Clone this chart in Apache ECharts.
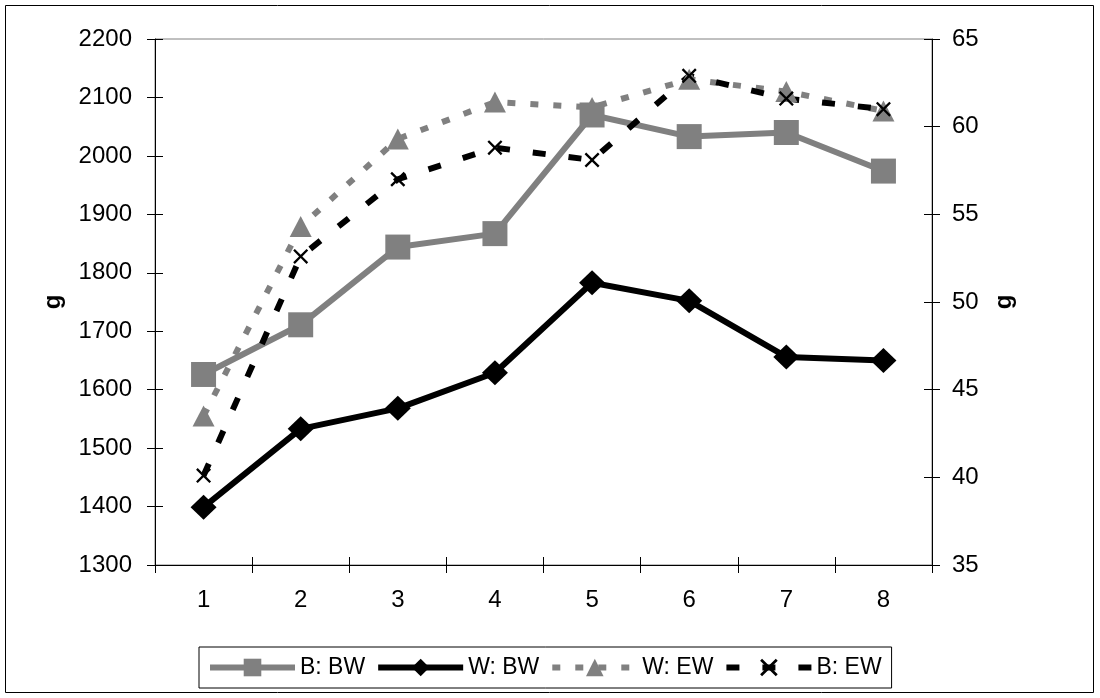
<!DOCTYPE html>
<html><head><meta charset="utf-8">
<script src="https://cdn.jsdelivr.net/npm/echarts@6/dist/echarts.min.js"></script>
<style>html,body{margin:0;padding:0;background:#fff}#c{width:1100px;height:698px}</style>
</head><body><div id="c"></div>
<script>
// ---- data ----
const categories = ['1', '2', '3', '4', '5', '6', '7', '8'];
const seriesNames = ['B: BW', 'W: BW', 'W: EW', 'B: EW'];
const bBW = [1626, 1711, 1844, 1867, 2070, 2033, 2040, 1974];   // left axis
const wBW = [1399, 1533, 1568, 1629, 1783, 1752, 1656, 1650];   // left axis
const wEW = [43.5, 54.3, 59.3, 61.4, 61.1, 62.7, 62.0, 60.9];   // right axis
const bEW = [40.1, 52.6, 57.0, 58.8, 58.1, 62.9, 61.6, 61.0];   // right axis
const leftMin = 1300, leftMax = 2200, leftStep = 100;
const rightMin = 35, rightMax = 65, rightStep = 5;
const axisTitle = 'g';

const FONT = "'Liberation Sans', Arial, sans-serif";
const GRAY = '#808080';
const LW = 6;
const xMark = 'path://M0,1.1L1.1,0L5,3.9L8.9,0L10,1.1L6.1,5L10,8.9L8.9,10L5,6.1L1.1,10L0,8.9L3.9,5Z';

const chart = echarts.init(document.getElementById('c'), null, {renderer: 'canvas'});
const lbl = {color: '#000', fontSize: 24, fontFamily: FONT, formatter: v => String(v)};
const line = {show: true, lineStyle: {color: '#000', width: 1}};

const option = {
  animation: false,
  backgroundColor: '#fff',
  grid: {left: 155, right: 168, top: 39, bottom: 133, show: true, borderColor: GRAY, borderWidth: 1},
  graphic: [{type: 'rect', shape: {x: 5.5, y: 5.5, width: 1088, height: 687}, style: {fill: 'none', stroke: '#000', lineWidth: 1}, silent: true}],
  legend: {
    left: 199, top: 647,
    itemWidth: 85, itemHeight: 22, itemGap: 10,
    padding: [9, 10, 9, 8],
    borderColor: '#000', borderWidth: 1,
    lineStyle: {width: LW},
    textStyle: {fontSize: 23, color: '#000', fontFamily: FONT},
    data: seriesNames
  },
  xAxis: [
    {type: 'category', data: categories, boundaryGap: true, position: 'bottom',
     axisLine: line, axisTick: {show: true, length: 8, lineStyle: {color: '#000'}},
     axisLabel: Object.assign({margin: 23}, lbl, {formatter: null}), splitLine: {show: false}},
    {type: 'category', data: categories, boundaryGap: true, position: 'bottom',
     axisLine: {show: false}, axisTick: {show: true, inside: true, length: 8, lineStyle: {color: '#000'}},
     axisLabel: {show: false}, splitLine: {show: false}}
  ],
  yAxis: [
    {type: 'value', position: 'left', min: leftMin, max: leftMax, interval: leftStep,
     name: axisTitle, nameLocation: 'middle', nameRotate: 90, nameGap: 90,
     nameTextStyle: {fontSize: 24, fontWeight: 'bold', color: '#000', fontFamily: FONT},
     axisLine: line, axisTick: {show: true, length: 8, lineStyle: {color: '#000'}},
     axisLabel: Object.assign({margin: 23}, lbl), splitLine: {show: false}},
    {type: 'value', position: 'right', min: rightMin, max: rightMax, interval: rightStep,
     name: axisTitle, nameLocation: 'middle', nameRotate: 90, nameGap: 60,
     nameTextStyle: {fontSize: 24, fontWeight: 'bold', color: '#000', fontFamily: FONT},
     axisLine: line, axisTick: {show: true, length: 8, lineStyle: {color: '#000'}},
     axisLabel: Object.assign({margin: 20}, lbl), splitLine: {show: false}},
    {type: 'value', position: 'left', min: leftMin, max: leftMax, interval: leftStep,
     axisLine: {show: false}, axisTick: {show: true, inside: true, length: 8, lineStyle: {color: '#000'}},
     axisLabel: {show: false}, splitLine: {show: false}},
    {type: 'value', position: 'right', min: rightMin, max: rightMax, interval: rightStep,
     axisLine: {show: false}, axisTick: {show: true, inside: true, length: 8, lineStyle: {color: '#000'}},
     axisLabel: {show: false}, splitLine: {show: false}}
  ],
  series: [
    {name: seriesNames[0], type: 'line', yAxisIndex: 0, data: bBW,
     symbol: 'rect', symbolSize: 25,
     lineStyle: {color: GRAY, width: LW}, itemStyle: {color: GRAY}},
    {name: seriesNames[1], type: 'line', yAxisIndex: 0, data: wBW,
     symbol: 'diamond', symbolSize: [26, 25],
     lineStyle: {color: '#000', width: LW}, itemStyle: {color: '#000'}},
    {name: seriesNames[2], type: 'line', yAxisIndex: 1, data: wEW,
     symbol: 'triangle', symbolSize: [22, 21],
     lineStyle: {color: GRAY, width: LW, type: [8, 15]}, itemStyle: {color: GRAY}},
    {name: seriesNames[3], type: 'line', yAxisIndex: 1, data: bEW,
     symbol: xMark, symbolSize: 15,
     lineStyle: {color: '#000', width: LW, type: [13, 23]}, itemStyle: {color: '#000'}}
  ]
};
chart.setOption(option);
</script>
</body></html>
